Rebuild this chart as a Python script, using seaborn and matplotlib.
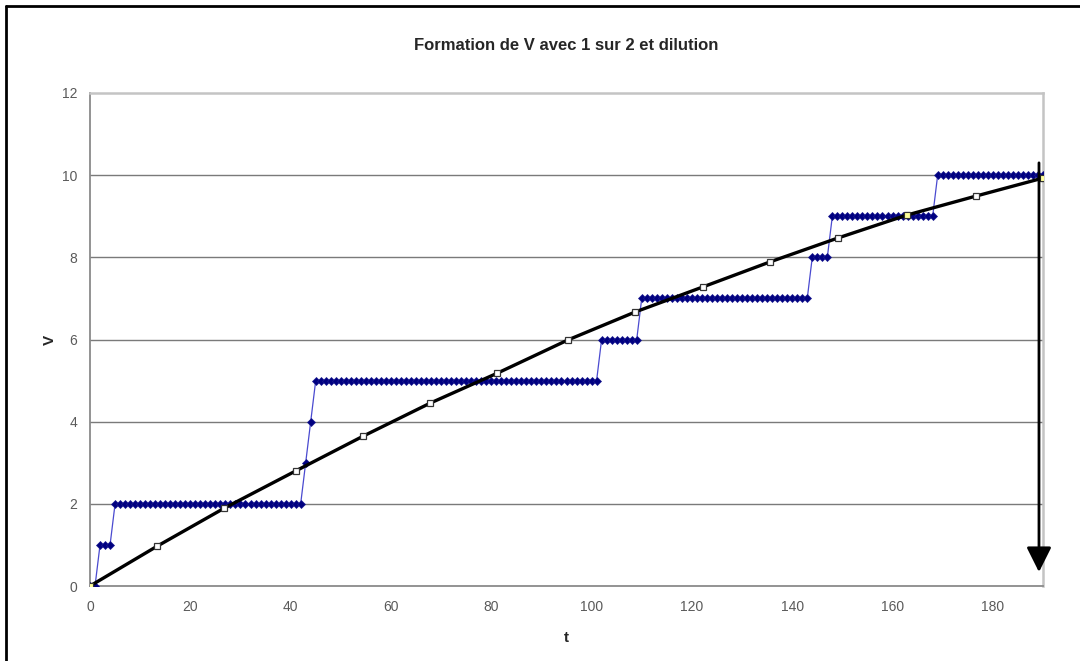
import numpy as np
import pandas as pd
import matplotlib
matplotlib.use("Agg")
import matplotlib.pyplot as plt
import seaborn as sns

# step series: one point per time unit, V
t_step = list(range(0, 191))
v_levels = [0, 1, 2, 3, 4, 5, 6, 7, 8, 9, 10]
v_counts = [2, 3, 38, 1, 1, 57, 8, 34, 4, 21, 22]  # how many t's sit on each level
v_step = [lvl for lvl, n in zip(v_levels, v_counts) for _ in range(n)]

# smooth (dilution) curve, marker points
t_curve = [0, 13.4, 26.7, 41.0, 54.5, 67.8, 81.2, 95.3, 108.7, 122.2, 135.6, 149.1, 162.9, 176.6, 190.0]
v_curve = [0, 0.97, 1.89, 2.80, 3.65, 4.45, 5.18, 5.99, 6.67, 7.28, 7.89, 8.47, 9.03, 9.49, 9.93]

df_step = pd.DataFrame({"t": t_step, "V": v_step})
df_curve = pd.DataFrame({"t": t_curve, "V": v_curve})

sns.set_style("white")
plt.rcParams["font.family"] = ["Liberation Sans", "DejaVu Sans"]

fig = plt.figure(figsize=(10.8, 6.61), dpi=100)
ax = fig.add_axes([90 / 1080, 1 - 586 / 661, 953 / 1080, 493 / 661])

sns.lineplot(data=df_step, x="t", y="V", ax=ax, color="#4a4ad0", linewidth=0.9,
             marker="D", markersize=4.2, markerfacecolor="#000080",
             markeredgecolor="#1a1a90", markeredgewidth=0.5, zorder=3)
sns.lineplot(data=df_curve, x="t", y="V", ax=ax, color="black", linewidth=2.4,
             marker="s", markersize=5, markerfacecolor="white",
             markeredgecolor="#333333", markeredgewidth=0.9, zorder=4)
# a few markers show up yellow in the original
hl = [0, 12, 14]
ax.scatter([t_curve[i] for i in hl], [v_curve[i] for i in hl], marker="s", s=22,
           facecolor="#ffff99", edgecolor="#333333", linewidth=0.8, zorder=5)

# arrow on the right side
ax.annotate("", xy=(189.2, 0.34), xytext=(189.2, 10.3),
            arrowprops=dict(arrowstyle="-|>,head_length=0.8,head_width=0.4",
                            color="black", lw=2, mutation_scale=19,
                            shrinkA=0, shrinkB=0), zorder=6)

ax.set_xlim(0, 190)
ax.set_ylim(0, 12)
ax.set_xticks(range(0, 181, 20))
ax.set_yticks(range(0, 13, 2))
for y in range(2, 12, 2):
    ax.axhline(y, color="#7a7a7a", linewidth=1, zorder=1)

for side in ["left", "bottom"]:
    ax.spines[side].set_color("#8a8a8a")
    ax.spines[side].set_linewidth(1.3)
for side in ["top", "right"]:
    ax.spines[side].set_color("#c4c4c4")
    ax.spines[side].set_linewidth(1.8)

ax.tick_params(axis="both", direction="out", length=4, width=1, color="#7a7a7a",
               labelsize=10, labelcolor="#5a5a5a", pad=6)
ax.tick_params(axis="y", pad=5)

ax.set_xlabel("t", fontsize=11, fontweight="bold", labelpad=12)
ax.set_ylabel("V", fontsize=11, fontweight="bold", labelpad=4)
ax.set_title("Formation de V avec 1 sur 2 et dilution", fontsize=12,
             fontweight="bold", pad=31)

# outer chart border (left and top visible)
fig.add_artist(plt.Line2D([6 / 1080, 6 / 1080], [0, 1 - 6 / 661], color="black", linewidth=2))
fig.add_artist(plt.Line2D([6 / 1080, 1], [1 - 6 / 661, 1 - 6 / 661], color="black", linewidth=2))

fig.savefig("out.png", dpi=100)
